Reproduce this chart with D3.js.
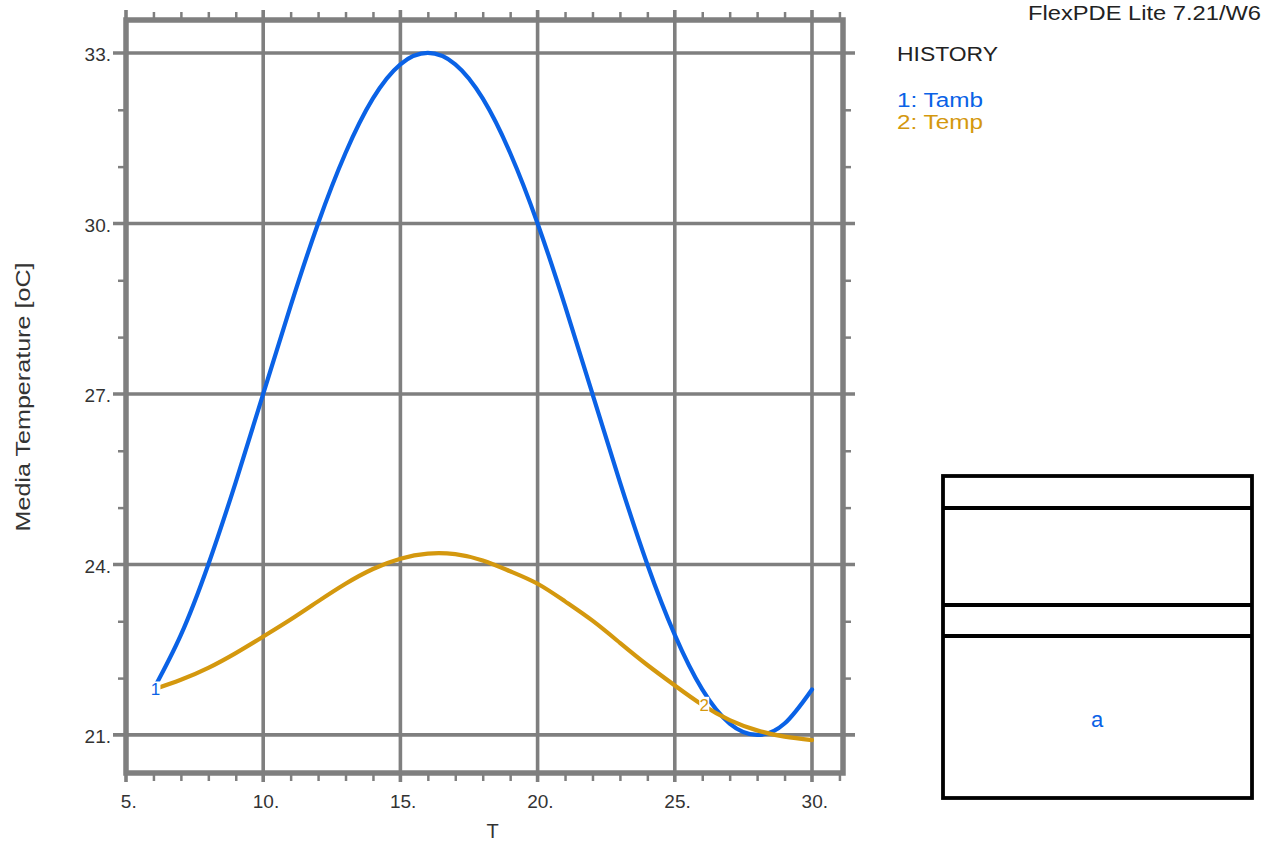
<!DOCTYPE html>
<html>
<head>
<meta charset="utf-8">
<script src="https://cdn.jsdelivr.net/npm/d3@7"></script>
<style>
  html, body { margin: 0; padding: 0; background: #fff; }
  svg { display: block; }
  text { font-family: "Liberation Sans", Arial, Helvetica, sans-serif; }
</style>
</head>
<body>
<svg id="chart" width="1263" height="850"></svg>
<script>
// ---- data ----
const times = [6, 7, 8, 9, 10, 11, 12, 13, 14, 15, 16, 17, 18, 19, 20, 21, 22, 23, 24, 25, 26, 27, 28, 29, 30];
const tamb  = [21.80, 22.76, 24.00, 25.45, 27.00, 28.55, 30.00, 31.24, 32.20, 32.80, 33.00, 32.80, 32.20, 31.24, 30.00, 28.55, 27.00, 25.45, 24.00, 22.76, 21.80, 21.20, 21.00, 21.20, 21.80];
const temp  = [21.80, 21.97, 22.18, 22.44, 22.73, 23.03, 23.35, 23.66, 23.92, 24.10, 24.19, 24.18, 24.07, 23.88, 23.66, 23.35, 23.01, 22.62, 22.23, 21.87, 21.53, 21.26, 21.08, 20.97, 20.91];
const seriesNames = ["1: Tamb", "2: Temp"];
const seriesColors = ["#0a62e6", "#d4980e"];
const labelTimes = [6, 26];
const xMajorTicks = [5, 10, 15, 20, 25, 30];
const xMinorTicks = [6, 7, 8, 9, 11, 12, 13, 14, 16, 17, 18, 19, 21, 22, 23, 24, 26, 27, 28, 29, 31];
const yMajorTicks = [21, 24, 27, 30, 33];
const yMinorTicks = [22, 23, 25, 26, 28, 29, 31, 32];
const xTitle = "T";
const yTitle = "Media Temperature [oC]";
const headerText = "FlexPDE Lite 7.21/W6";
const legendTitle = "HISTORY";
const boxLabel = "a";

// ---- layout ----
const svg = d3.select("#chart");
svg.append("rect").attr("width", 1263).attr("height", 850).attr("fill", "#fff");

const L = 126, R = 843, T = 20, B = 773;
const x = d3.scaleLinear().domain([5, 31.13]).range([L, R]);
const y = d3.scaleLinear().domain([20.33, 33.58]).range([B, T]);
const gridColor = "#7f7f7f";

// grid lines (extended past the frame)
const grid = svg.append("g");
grid.selectAll("line.v").data(xMajorTicks).join("line")
  .attr("x1", d => x(d)).attr("x2", d => x(d))
  .attr("y1", T - 10).attr("y2", B + 9)
  .attr("stroke", gridColor).attr("stroke-width", 3.6);
grid.selectAll("line.h").data(yMajorTicks).join("line")
  .attr("y1", d => y(d)).attr("y2", d => y(d))
  .attr("x1", L - 13).attr("x2", R + 12)
  .attr("stroke", gridColor).attr("stroke-width", 3.6);

// minor ticks via d3 axes on all four sides
function styleAxis(g) {
  g.select(".domain").remove();
  g.selectAll(".tick line").attr("stroke", gridColor).attr("stroke-width", 2.5);
  g.selectAll(".tick text").remove();
}
svg.append("g").attr("transform", `translate(0,${B})`)
  .call(d3.axisBottom(x).tickValues(xMinorTicks).tickSize(8)).call(styleAxis);
svg.append("g").attr("transform", `translate(0,${T})`)
  .call(d3.axisTop(x).tickValues(xMinorTicks).tickSize(8)).call(styleAxis);
svg.append("g").attr("transform", `translate(${L},0)`)
  .call(d3.axisLeft(y).tickValues(yMinorTicks).tickSize(8)).call(styleAxis);
svg.append("g").attr("transform", `translate(${R},0)`)
  .call(d3.axisRight(y).tickValues(yMinorTicks).tickSize(8)).call(styleAxis);

// frame
svg.append("rect").attr("x", L).attr("y", T).attr("width", R - L).attr("height", B - T)
  .attr("fill", "none").attr("stroke", gridColor).attr("stroke-width", 5.5);

// tick labels via axes
const xAxis = svg.append("g").attr("transform", `translate(0,${B})`)
  .call(d3.axisBottom(x).tickValues(xMajorTicks).tickSize(0).tickPadding(22).tickFormat(d => d + "."));
xAxis.select(".domain").remove();
xAxis.selectAll(".tick text").attr("font-size", 19).attr("fill", "#333")
  .attr("font-family", "'Liberation Sans', Arial, sans-serif").attr("dx", "0.12em");

const yAxis = svg.append("g").attr("transform", `translate(${L},0)`)
  .call(d3.axisLeft(y).tickValues(yMajorTicks).tickSize(0).tickPadding(15).tickFormat(d => d + "."));
yAxis.select(".domain").remove();
yAxis.selectAll(".tick text").attr("font-size", 19).attr("fill", "#333")
  .attr("font-family", "'Liberation Sans', Arial, sans-serif").attr("dy", "0.4em");

// axis titles
svg.append("text").attr("x", x(18.36)).attr("y", 838).attr("text-anchor", "middle")
  .attr("font-size", 20).attr("fill", "#333").text(xTitle);
svg.append("text").attr("transform", "translate(30,397) rotate(-90)").attr("text-anchor", "middle")
  .attr("font-size", 21).attr("textLength", 269).attr("lengthAdjust", "spacingAndGlyphs")
  .attr("fill", "#333").text(yTitle);

// curves
const series = [tamb, temp];
const line = d3.line().curve(d3.curveNatural)
  .x((d, i) => x(times[i])).y(d => y(d));
series.forEach((s, k) => {
  svg.append("path").datum(s).attr("d", line)
    .attr("fill", "none").attr("stroke", seriesColors[k]).attr("stroke-width", 4.2)
    .attr("stroke-linejoin", "round").attr("stroke-linecap", "round");
});

// curve labels with white background
series.forEach((s, k) => {
  const i = times.indexOf(labelTimes[k]);
  const cx = x(times[i]) + 2, cy = y(s[i]);
  svg.append("rect").attr("x", cx - 5).attr("y", cy - 8).attr("width", 10).attr("height", 15)
    .attr("fill", "#fff");
  svg.append("text").attr("x", cx).attr("y", cy + 6).attr("text-anchor", "middle")
    .attr("font-size", 17).attr("fill", seriesColors[k]).text(String(k + 1));
});

// header + legend
svg.append("text").attr("x", 1261).attr("y", 20).attr("text-anchor", "end")
  .attr("font-size", 20).attr("textLength", 233).attr("lengthAdjust", "spacingAndGlyphs")
  .attr("fill", "#222").text(headerText);
svg.append("text").attr("x", 897).attr("y", 61)
  .attr("font-size", 20).attr("textLength", 101).attr("lengthAdjust", "spacingAndGlyphs")
  .attr("fill", "#222").text(legendTitle);
seriesNames.forEach((n, k) => {
  svg.append("text").attr("x", 897).attr("y", 107 + k * 22)
    .attr("font-size", 20).attr("textLength", 86).attr("lengthAdjust", "spacingAndGlyphs")
    .attr("fill", seriesColors[k]).text(n);
});

// layer box at right
const box = svg.append("g").attr("stroke", "#000").attr("stroke-width", 3.8).attr("fill", "none");
box.append("rect").attr("x", 943).attr("y", 476).attr("width", 309).attr("height", 322);
[508, 605, 636].forEach(yy => box.append("line").attr("x1", 943).attr("x2", 1252).attr("y1", yy).attr("y2", yy));
svg.append("text").attr("x", 1097).attr("y", 727).attr("text-anchor", "middle")
  .attr("font-size", 22).attr("fill", seriesColors[0]).text(boxLabel);
</script>
</body>
</html>
